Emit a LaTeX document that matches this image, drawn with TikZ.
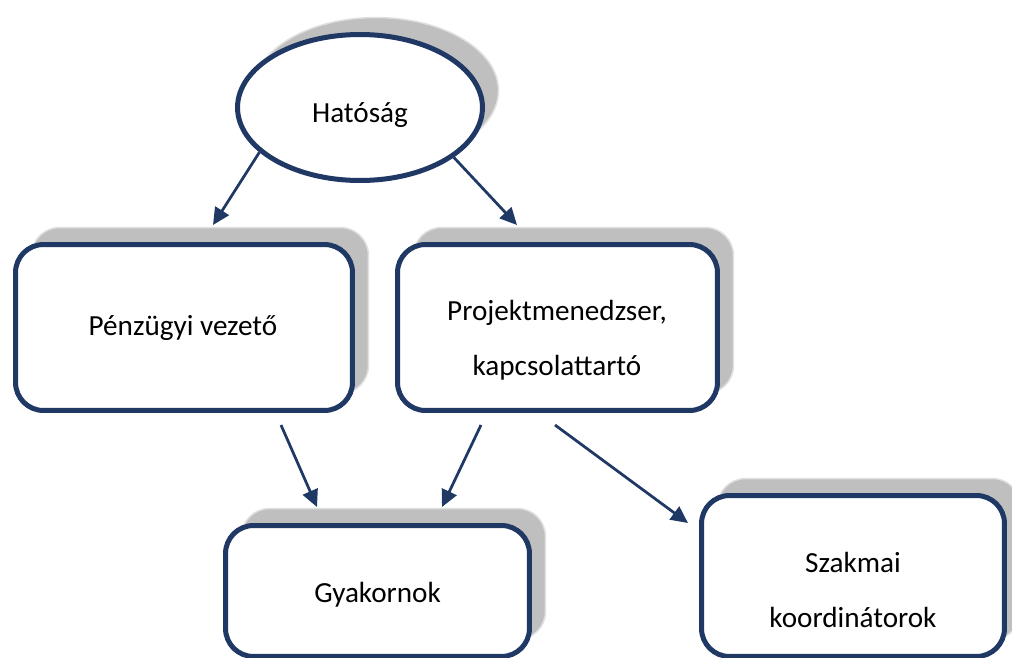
\documentclass[tikz,border=0pt]{standalone}
\usepackage{fontspec}
\setmainfont{Carlito}
\usetikzlibrary{shapes.geometric,shadows,arrows.meta}
\definecolor{navy}{RGB}{31,56,100}
\definecolor{shade}{RGB}{191,191,191}

\begin{document}
\begin{tikzpicture}[x=0.02cm,y=-0.02cm,
	unit/.style={draw=navy,line width=0.1cm,fill=white,inner sep=0pt,
		general shadow={shadow xshift=0.32cm,shadow yshift=0.34cm,fill=shade,draw=black!12,line width=0.03cm}},
	box/.style={unit,rectangle,rounded corners=0.56cm},
	oval/.style={unit,ellipse},
	txt/.style={anchor=base,font=\fontsize{16.6}{31}\selectfont,align=center,inner sep=0pt},
	arr/.style={-{Triangle[length=0.34cm,width=0.32cm]},draw=navy,line width=0.055cm}]
% frame
	\useasboundingbox (0,0) rectangle (1012,657);
	\clip (0,0) rectangle (1012,657);
% shapes
	\node[oval,minimum width=4.9cm,minimum height=2.92cm] (hat) at (360,107.5) {};
	\node[box,minimum width=6.74cm,minimum height=3.32cm] (pv) at (184,327.5) {};
	\node[box,minimum width=6.40cm,minimum height=3.32cm] (pm) at (557.5,327.5) {};
	\node[box,minimum width=6.08cm,minimum height=2.62cm] (gy) at (377.5,591) {};
	\node[box,minimum width=6.06cm,minimum height=3.22cm] (sz) at (853,576) {};
% texts (base = last line)
	\node[txt] (hatt) at (360,122) {Hatóság};
	\node[txt] (pvt) at (183,335) {Pénzügyi vezető};
	\node[txt] (pmt) at (557,375) {Projektmenedzser,\\kapcsolattartó};
	\node[txt] (gyt) at (377.5,602) {Gyakornok};
	\node[txt] (szt) at (853,627) {Szakmai\\koordinátorok};
% arrow ends
	\coordinate (pv-in) at (213,225);
	\coordinate (pm-in) at (517,225);
	\coordinate (pv-out) at (281,425);
	\coordinate (pm-out) at (481,425);
	\coordinate (pm-out2) at (555,425);
	\coordinate (gy-in1) at (317,507);
	\coordinate (gy-in2) at (442,507);
	\coordinate (sz-in) at (688,523);
% arrows
	\draw[arr] (hat.204) -- (pv-in);
	\draw[arr] (hat.332) -- (pm-in);
	\draw[arr] (pv-out) -- (gy-in1);
	\draw[arr] (pm-out) -- (gy-in2);
	\draw[arr] (pm-out2) -- (sz-in);
\end{tikzpicture}
\end{document}
